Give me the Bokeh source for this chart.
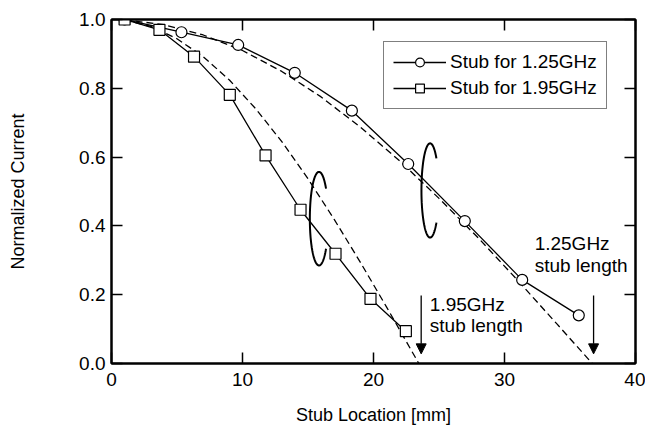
import numpy as np
from bokeh.plotting import figure
from bokeh.models import (LinearAxis, Range1d, Legend, LegendItem, Label, Arrow,
                          NormalHead, FixedTicker, CustomJSTickFormatter)
from bokeh.embed import file_html
from bokeh.resources import INLINE

# measured stub data
x_125 = [1.0, 5.34, 9.67, 13.99, 18.35, 22.65, 26.97, 31.35, 35.67]
y_125 = [1.0, 0.963, 0.926, 0.845, 0.735, 0.580, 0.414, 0.243, 0.140]
x_195 = [1.0, 3.66, 6.3, 9.03, 11.76, 14.43, 17.1, 19.77, 22.47]
y_195 = [1.0, 0.970, 0.892, 0.781, 0.605, 0.447, 0.319, 0.188, 0.094]

# dashed reference curves
dash_x_125 = [1, 4, 7, 10, 13, 16, 19, 22, 25, 28, 31, 34, 36.7]
dash_y_125 = [0.999, 0.985, 0.955, 0.910, 0.849, 0.775, 0.687, 0.589, 0.480, 0.365, 0.242, 0.115, 0.0]
dash_x_195 = [1, 3, 5, 7, 9, 11, 13, 15, 17, 19, 21, 22.5, 23.46]
dash_y_195 = [0.998, 0.980, 0.944, 0.892, 0.824, 0.741, 0.645, 0.537, 0.419, 0.294, 0.164, 0.064, 0.0]

x_ticks = [0, 10, 20, 30, 40]
y_ticks = [0.0, 0.2, 0.4, 0.6, 0.8, 1.0]

FONT = "Liberation Sans"
FS = "19px"

p = figure(width=645, height=431, x_range=Range1d(0, 40), y_range=Range1d(0, 1.0),
           output_backend="svg", toolbar_location=None,
           min_border_left=111, min_border_right=10, min_border_top=19, min_border_bottom=68)
p.background_fill_color = "white"
p.border_fill_color = "white"
p.grid.visible = False
p.outline_line_color = "black"
p.outline_line_width = 2

xb = p.below[0]
yl = p.left[0]
xb.ticker = FixedTicker(ticks=x_ticks)
yl.ticker = FixedTicker(ticks=y_ticks)
top = LinearAxis(ticker=FixedTicker(ticks=x_ticks),
                 formatter=CustomJSTickFormatter(code="return '';"))
right = LinearAxis(ticker=FixedTicker(ticks=y_ticks),
                   formatter=CustomJSTickFormatter(code="return '';"))
p.add_layout(top, "above")
p.add_layout(right, "right")

for ax in (xb, yl, top, right):
    ax.axis_line_width = 2
    ax.axis_line_color = "black"
    ax.major_tick_in = 11
    ax.major_tick_out = 0
    ax.major_tick_line_width = 1.5
    ax.minor_tick_line_color = None
    ax.major_label_text_font = FONT
    ax.major_label_text_color = "black"
    ax.major_label_text_font_size = FS
top.major_label_standoff = 0
right.major_label_standoff = 0

xb.major_label_standoff = 9
yl.major_label_standoff = 6
yl.formatter = CustomJSTickFormatter(code="return tick.toFixed(1);")

xb.axis_label = "Stub Location [mm]"
yl.axis_label = "Normalized Current"
for ax in (xb, yl):
    ax.axis_label_text_font = FONT
    ax.axis_label_text_font_size = "18px"
    ax.axis_label_text_font_style = "normal"
    ax.axis_label_text_color = "black"
xb.axis_label_standoff = 16
yl.axis_label_standoff = 48

# dashed curves
p.line(dash_x_125, dash_y_125, line_color="black", line_width=1.3, line_dash="7 4")
p.line(dash_x_195, dash_y_195, line_color="black", line_width=1.3, line_dash="7 4")

# measured series
l1 = p.line(x_125, y_125, line_color="black", line_width=1.3)
m1 = p.scatter(x_125, y_125, marker="circle", size=11, fill_color="white",
               line_color="black", line_width=1.2)
l2 = p.line(x_195, y_195, line_color="black", line_width=1.3)
m2 = p.scatter(x_195, y_195, marker="square", size=11, fill_color="white",
               line_color="black", line_width=1.2)

# loops marking curve pairs
def loop(cx, cy, rx, ry, gap_deg):
    t = np.radians(np.linspace(gap_deg, 360 - gap_deg, 120))
    return cx + rx * np.cos(t), cy - ry * np.sin(t)

for cx, cy, rx, ry, g in [(15.84, 0.421, 0.70, 0.136, 40), (24.32, 0.503, 0.66, 0.137, 43)]:
    lx, ly = loop(cx, cy, rx, ry, g)
    p.line(lx, ly, line_color="black", line_width=2)

# arrows
for ax_ in (23.64, 36.8):
    p.add_layout(Arrow(end=NormalHead(size=10, fill_color="black", line_color="black"),
                       x_start=ax_, y_start=0.198, x_end=ax_, y_end=0.028,
                       line_color="black", line_width=1.3))

# annotations
for tx, ty, txt in [(24.3, 0.171, "1.95GHz"), (24.3, 0.110, "stub length"),
                    (32.3, 0.348, "1.25GHz"), (32.3, 0.285, "stub length")]:
    p.add_layout(Label(x=tx, y=ty, text=txt, text_font=FONT, text_font_size=FS,
                       text_color="black", text_baseline="middle", text_align="left"))

legend = Legend(items=[LegendItem(label="Stub for 1.25GHz", renderers=[l1, m1]),
                       LegendItem(label="Stub for 1.95GHz", renderers=[l2, m2])],
                location=(272, 254))
legend.label_text_font = FONT
legend.label_text_font_size = FS
legend.label_text_color = "black"
legend.border_line_color = "black"
legend.border_line_width = 1.5
legend.background_fill_alpha = 1
legend.glyph_width = 53
legend.glyph_height = 22
legend.label_height = 22
legend.label_standoff = 4
legend.spacing = 4
legend.padding = 9
legend.margin = 0
p.add_layout(legend, "center")

open("out.html", "w").write(file_html(p, INLINE))
